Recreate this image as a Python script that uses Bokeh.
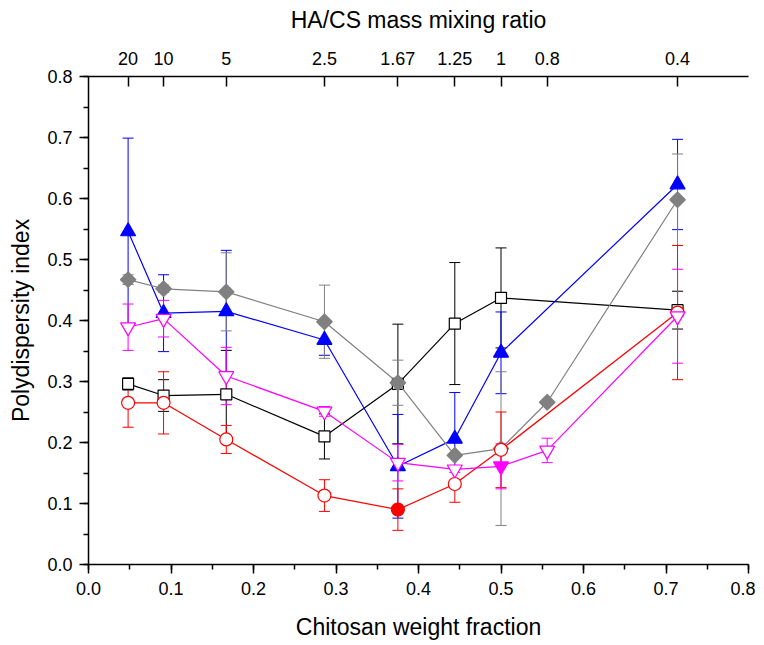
from bokeh.plotting import figure
from bokeh.models import (ColumnDataSource, Whisker, TeeHead, LinearAxis, FixedTicker,
                          SingleIntervalTicker, NumeralTickFormatter, CustomJSTickFormatter)
from bokeh.embed import file_html
from bokeh.resources import INLINE

# Chitosan weight fraction positions and matching HA/CS mass mixing ratios (top axis)
fractions = [0.048, 0.091, 0.167, 0.286, 0.375, 0.444, 0.500, 0.556, 0.714]
ratio_labels = ["20", "10", "5", "2.5", "1.67", "1.25", "1", "0.8", "0.4"]

# Series (index into fractions), values, errors, filled flags
black_idx = [0, 1, 2, 3, 4, 5, 6, 8]
black_y = [0.296, 0.277, 0.279, 0.210, 0.296, 0.395, 0.437, 0.417]
black_err = [0.010, 0.026, 0.072, 0.037, 0.098, 0.100, 0.082, 0.031]
black_filled = [0, 0, 0, 0, 0, 0, 0, 0]

blue_idx = [0, 1, 2, 3, 4, 5, 6, 8]
blue_y = [0.546, 0.412, 0.415, 0.368, 0.161, 0.206, 0.347, 0.623]
blue_err = [0.153, 0.063, 0.100, 0.025, 0.085, 0.076, 0.067, 0.074]
blue_filled = [1, 1, 1, 1, 1, 1, 1, 1]

gray_idx = [0, 1, 2, 3, 4, 5, 6, 7, 8]
gray_y = [0.467, 0.452, 0.447, 0.398, 0.298, 0.179, 0.190, 0.266, 0.598]
gray_err = [0.008, 0.006, 0.064, 0.060, 0.037, 0.0, 0.126, 0.0, 0.075]
gray_filled = [1, 1, 1, 1, 1, 1, 1, 1, 1]

red_idx = [0, 1, 2, 3, 4, 5, 6, 8]
red_y = [0.265, 0.265, 0.205, 0.113, 0.090, 0.132, 0.188, 0.413]
red_err = [0.040, 0.051, 0.023, 0.026, 0.034, 0.030, 0.062, 0.110]
red_filled = [0, 0, 0, 0, 1, 0, 0, 0]

mag_idx = [0, 1, 2, 3, 4, 5, 6, 7, 8]
mag_y = [0.389, 0.403, 0.309, 0.251, 0.167, 0.156, 0.161, 0.187, 0.407]
mag_err = [0.038, 0.030, 0.047, 0.008, 0.030, 0.005, 0.037, 0.020, 0.077]
mag_filled = [0, 0, 0, 0, 0, 0, 1, 0, 0]

FONT = "Liberation Sans"

p = figure(width=755, height=642, x_range=(0, 0.8), y_range=(0, 0.8),
           output_backend="svg", toolbar_location=None,
           min_border_left=88, min_border_right=7, min_border_top=76, min_border_bottom=78)
p.outline_line_color = None
p.grid.visible = False
p.background_fill_color = "white"

for ax, lab in ((p.xaxis[0], "Chitosan weight fraction"), (p.yaxis[0], "Polydispersity index")):
    ax.ticker = SingleIntervalTicker(interval=0.1, num_minor_ticks=2)
    ax.formatter = NumeralTickFormatter(format="0.0")
    ax.axis_label = lab
    ax.axis_label_text_font = FONT
    ax.axis_label_text_font_style = "normal"
    ax.axis_label_text_font_size = "23px"
    ax.axis_label_text_color = "black"
    ax.major_label_text_font = FONT
    ax.major_label_text_font_size = "18px"
    ax.major_label_text_color = "black"
    ax.axis_line_width = 1.5
    ax.axis_line_color = "black"
    ax.major_tick_line_width = 1.5
    ax.minor_tick_line_width = 1.5
    ax.major_tick_line_color = "black"
    ax.minor_tick_line_color = "black"
    ax.major_tick_in = 0
    ax.major_tick_out = 9
    ax.minor_tick_in = 0
    ax.minor_tick_out = 5

p.xaxis[0].major_label_standoff = 8
p.xaxis[0].axis_label_standoff = 16
p.yaxis[0].major_label_standoff = 7
p.yaxis[0].axis_label_standoff = 10

top = LinearAxis(ticker=FixedTicker(ticks=fractions, minor_ticks=[]),
                 formatter=CustomJSTickFormatter(args=dict(xs=fractions, labs=ratio_labels), code="""
let best = 0, bd = 1e9;
for (let i = 0; i < xs.length; i++) { const d = Math.abs(xs[i] - tick); if (d < bd) { bd = d; best = i; } }
return labs[best];
"""),
                 axis_label="HA/CS mass mixing ratio")
top.axis_label_text_font = FONT
top.axis_label_text_font_style = "normal"
top.axis_label_text_font_size = "23px"
top.axis_label_text_color = "black"
top.major_label_text_font = FONT
top.major_label_text_font_size = "18px"
top.major_label_text_color = "black"
top.axis_line_width = 1.5
top.axis_line_color = "black"
top.major_tick_line_width = 1.5
top.major_tick_line_color = "black"
top.major_tick_in = 10
top.major_tick_out = 0
top.minor_tick_in = 0
top.minor_tick_out = 0
top.major_label_standoff = 12
top.axis_label_standoff = 16
p.add_layout(top, "above")


def series(idx, ys, errs, filled, color, marker, size, angle=0.0):
    xs = [fractions[i] for i in idx]
    fills = [color if f else "white" for f in filled]
    src = ColumnDataSource(dict(x=xs, y=ys, fill=fills))
    wx = [x for x, e in zip(xs, errs) if e > 0]
    wu = [y + e for y, e in zip(ys, errs) if e > 0]
    wl = [y - e for y, e in zip(ys, errs) if e > 0]
    wsrc = ColumnDataSource(dict(x=wx, upper=wu, lower=wl))
    w = Whisker(source=wsrc, base="x", upper="upper", lower="lower",
                line_color=color, line_width=1,
                upper_head=TeeHead(size=11, line_color=color, line_width=1),
                lower_head=TeeHead(size=11, line_color=color, line_width=1))
    p.add_layout(w)
    p.line(xs, ys, line_color=color, line_width=1.2)
    p.scatter("x", "y", source=src, marker=marker, size=size, angle=angle,
              fill_color="fill", line_color=color, line_width=1.2)


series(black_idx, black_y, black_err, black_filled, "black", "square", 11)
series(blue_idx, blue_y, blue_err, blue_filled, "#0000ff", "triangle", 15)
series(gray_idx, gray_y, gray_err, gray_filled, "#808080", "square", 11, angle=0.7854)
series(red_idx, red_y, red_err, red_filled, "#ff0000", "circle", 13)
series(mag_idx, mag_y, mag_err, mag_filled, "#ff00ff", "inverted_triangle", 15)

open("out.html", "w").write(file_html(p, INLINE))
